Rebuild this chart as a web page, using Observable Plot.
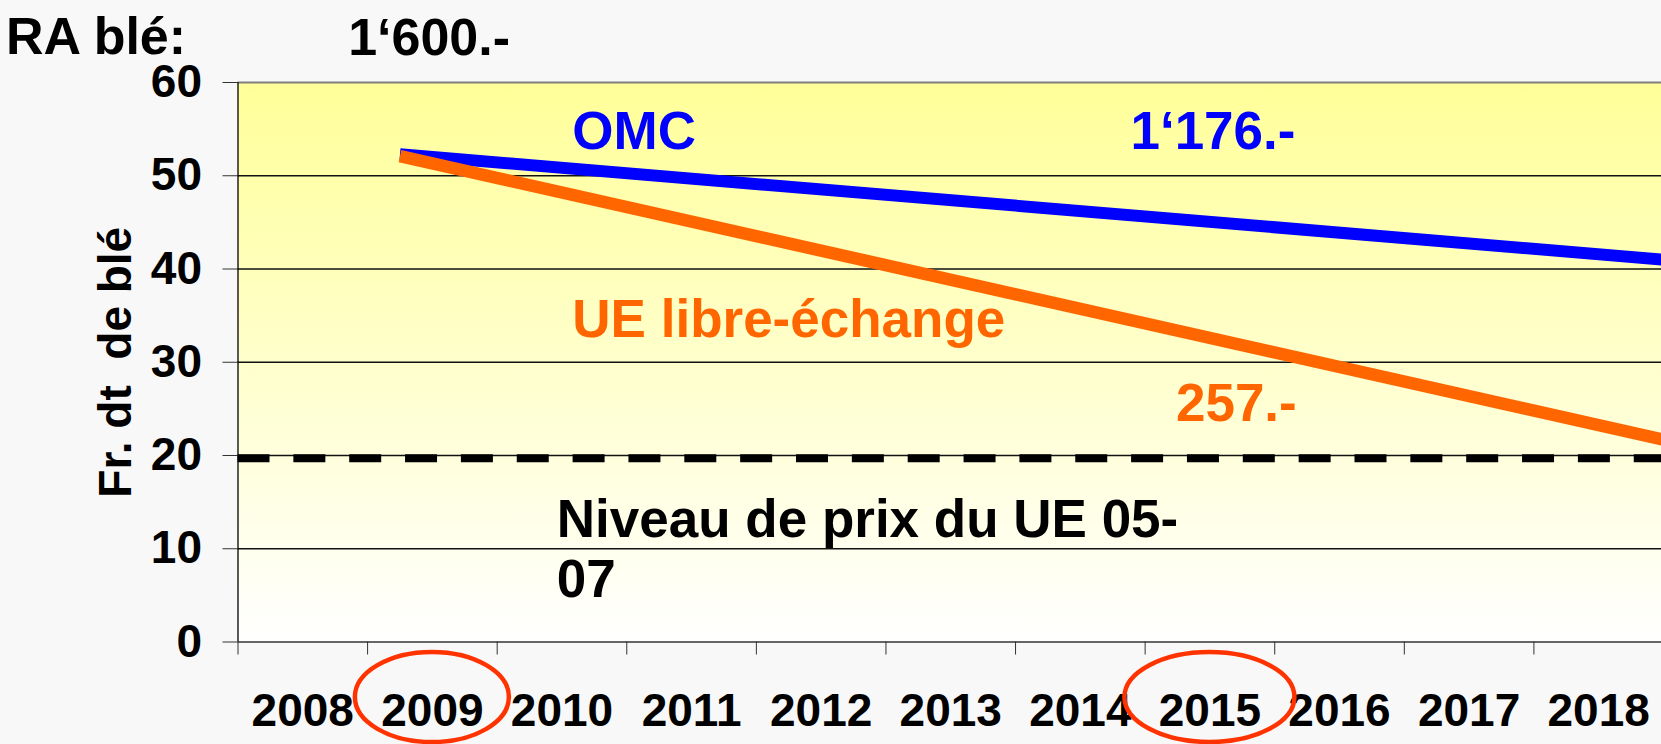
<!DOCTYPE html>
<html>
<head>
<meta charset="utf-8">
<script src="https://cdn.jsdelivr.net/npm/d3@7"></script>
<script src="https://cdn.jsdelivr.net/npm/@observablehq/plot@0.6"></script>
<style>
  html, body { margin: 0; padding: 0; background: #F8F8F8; overflow: hidden; }
  #chart svg { display: block; }
</style>
</head>
<body>
<div id="chart"></div>
<script>
// ---- data ----
const years = [2008, 2009, 2010, 2011, 2012, 2013, 2014, 2015, 2016, 2017, 2018];
const yTicks = [0, 10, 20, 30, 40, 50, 60];
const lineX = [2008.75, 2018.5];
const omcValues = [52.3, 41.0];
const ueValues = [52.1, 21.7];
const euPriceLevel = [19.7];
const highlightYears = [2009, 2015];
const highlightWidth = [77, 85];

const titleText = ["RA blé:", "1‘600.-"];
const titleX = [2005.71, 2008.35];
const titleY = [63.1, 62.9];

const annotationText = ["OMC", "1‘176.-", "UE libre-échange", "257.-", "Niveau de prix du UE 05-\n07"];
const annotationX = [2010.08, 2015.66, 2010.08, 2015.67, 2009.96];
const annotationY = [52.9, 52.9, 32.7, 23.75, 15.95];

const yLabel = "Fr. dt  de blé";

// ---- styles ----
const FONT = "'Liberation Sans', Arial, Helvetica, sans-serif";
const BLUE = "#0000FF";
const ORANGE = "#FF6600";
const annotationStyle = [
  {fill: BLUE, textAnchor: "start", lineAnchor: "bottom"},
  {fill: BLUE, textAnchor: "end", lineAnchor: "bottom"},
  {fill: ORANGE, textAnchor: "start", lineAnchor: "bottom"},
  {fill: ORANGE, textAnchor: "end", lineAnchor: "bottom"},
  {fill: "#000", textAnchor: "start", lineAnchor: "top", lineHeight: 1.15}
];

const omcData = lineX.map((x, i) => ({x, y: omcValues[i]}));
const ueData = lineX.map((x, i) => ({x, y: ueValues[i]}));
const boundaries = years.map(y => y - 0.5).concat([years[years.length - 1] + 0.5]);

const chart = Plot.plot({
  width: 1661,
  height: 744,
  marginTop: 82,
  marginBottom: 102.5,
  marginLeft: 237.5,
  marginRight: -2,
  style: {background: "#F8F8F8", fontFamily: FONT, fontWeight: "bold", color: "#000", overflow: "visible"},
  x: {domain: [2007.5, 2018.5], label: null},
  y: {domain: [0, 60], label: null},
  marks: [
    Plot.frame({fill: "url(#bgGrad)", stroke: "none"}),
    Plot.ruleY(yTicks.filter(d => d > 0 && d < 60), {stroke: "#111", strokeWidth: 1.3}),
    Plot.ruleY([60], {stroke: "#808080", strokeWidth: 2}),
    Plot.ruleY([0], {stroke: "#666", strokeWidth: 2}),
    Plot.ruleX([2007.5], {stroke: "#000", strokeWidth: 1.3}),
    Plot.ruleY(euPriceLevel, {stroke: "#000", strokeWidth: 8, strokeDasharray: "32,23.85"}),
    Plot.line(omcData, {x: "x", y: "y", stroke: BLUE, strokeWidth: 12, strokeLinecap: "butt"}),
    Plot.line(ueData, {x: "x", y: "y", stroke: ORANGE, strokeWidth: 12.5, strokeLinecap: "butt"}),
    Plot.axisY({ticks: yTicks, tickSize: 15, tickPadding: 21, fontSize: 46, fontWeight: "bold", stroke: "#333", tickFormat: d => String(d), label: null}),
    Plot.axisX({ticks: boundaries, tickSize: 13, stroke: "#333", tickFormat: () => "", label: null}),
    Plot.axisX({ticks: years, tickSize: 0, tickPadding: 51.5, fontSize: 46, fontWeight: "bold", tickFormat: d => String(d), label: null}),
    Plot.text([yLabel], {frameAnchor: "left", dx: -107, rotate: -90, lineAnchor: "bottom", textAnchor: "middle", fontSize: 46, fontWeight: "bold", fill: "#000"}),
    ...titleText.map((t, i) => Plot.text([t], {x: [titleX[i]], y: [titleY[i]], textAnchor: "start", lineAnchor: "bottom", fontSize: 52, fontWeight: "bold", fill: "#000"})),
    ...annotationText.map((t, i) => Plot.text([t], {x: [annotationX[i]], y: [annotationY[i]], fontSize: 53, fontWeight: "bold", ...annotationStyle[i]}))
  ]
});

document.getElementById("chart").appendChild(chart);

const svg = d3.select(chart);
const defs = svg.insert("defs", ":first-child");
const grad = defs.append("linearGradient").attr("id", "bgGrad")
  .attr("x1", 0).attr("y1", 0).attr("x2", 0).attr("y2", 1);
grad.append("stop").attr("offset", "0%").attr("stop-color", "#FFFF99");
grad.append("stop").attr("offset", "100%").attr("stop-color", "#FFFFFF");

const xs = chart.scale("x"), ys = chart.scale("y");
highlightYears.forEach((yr, i) => {
  svg.append("ellipse")
    .attr("cx", xs.apply(yr))
    .attr("cy", ys.apply(0) + 55.5)
    .attr("rx", highlightWidth[i]).attr("ry", 45)
    .attr("fill", "none").attr("stroke", "#FF3300").attr("stroke-width", 4.5);
});
</script>
</body>
</html>
